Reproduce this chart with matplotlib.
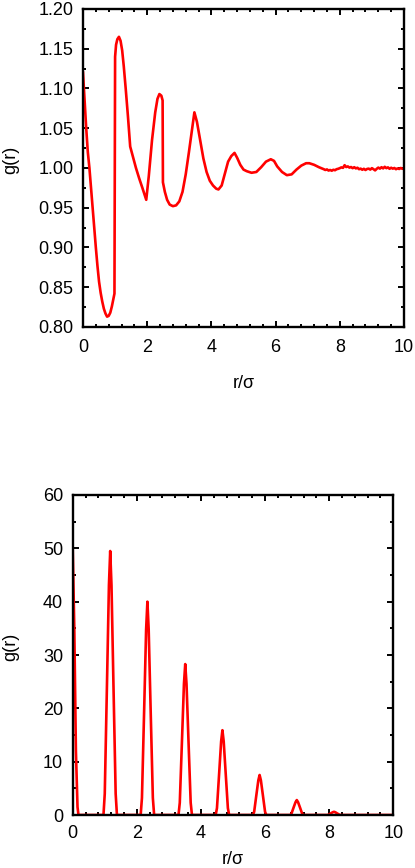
import matplotlib
matplotlib.use("Agg")
import matplotlib.pyplot as plt
from matplotlib.ticker import MultipleLocator, FormatStrFormatter

# ---------------- data: top panel ----------------
r_top = [0.00, 0.05, 0.10, 0.15, 0.20, 0.25, 0.30, 0.35, 0.40, 0.45,
         0.50, 0.55, 0.60, 0.65, 0.70, 0.75, 0.80, 0.85, 0.90, 0.95,
         0.98, 1.00, 1.03, 1.07, 1.12, 1.17, 1.22, 1.27, 1.33, 1.40,
         1.47, 1.55, 1.65, 1.75, 1.85, 1.97, 2.05, 2.15, 2.25, 2.32,
         2.38, 2.44, 2.48, 2.49, 2.55, 2.62, 2.70, 2.80, 2.90, 3.00,
         3.10, 3.20, 3.30, 3.40, 3.47, 3.55, 3.65, 3.75, 3.85, 3.95,
         4.05, 4.15, 4.22, 4.32, 4.42, 4.52, 4.62, 4.72, 4.80, 4.90,
         5.00, 5.10, 5.25, 5.40, 5.55, 5.70, 5.85, 5.95, 6.05, 6.20,
         6.35, 6.50, 6.65, 6.80, 6.95, 7.05, 7.20, 7.35,
         7.50, 7.55, 7.60, 7.65, 7.70, 7.75, 7.80, 7.85, 7.90, 7.95,
         8.00, 8.05, 8.10, 8.15, 8.20, 8.25, 8.30, 8.35, 8.40, 8.45,
         8.50, 8.55, 8.60, 8.65, 8.70, 8.75, 8.80, 8.85, 8.90, 8.95,
         9.00, 9.05, 9.10, 9.15, 9.20, 9.25, 9.30, 9.35, 9.40, 9.45,
         9.50, 9.55, 9.60, 9.65, 9.70, 9.75, 9.80, 9.85, 9.90, 9.95,
         10.00]
g_top = [1.120, 1.085, 1.050, 1.020, 1.000, 0.975, 0.950, 0.925, 0.900, 0.877,
         0.857, 0.843, 0.832, 0.823, 0.817, 0.813, 0.814, 0.818, 0.826, 0.836,
         0.842, 1.140, 1.155, 1.162, 1.165, 1.160, 1.148, 1.128, 1.100, 1.065,
         1.027, 1.015, 1.000, 0.987, 0.975, 0.960, 0.990, 1.035, 1.070, 1.087,
         1.093, 1.091, 1.085, 0.982, 0.970, 0.960, 0.954, 0.952, 0.953, 0.958,
         0.970, 0.992, 1.020, 1.050, 1.070, 1.058, 1.035, 1.012, 0.995, 0.984,
         0.978, 0.974, 0.973, 0.978, 0.993, 1.008, 1.015, 1.019, 1.013, 1.004,
         0.998, 0.996, 0.994, 0.995, 1.001, 1.008, 1.011, 1.009, 1.002, 0.995,
         0.991, 0.992, 0.998, 1.003, 1.006, 1.006, 1.004, 1.001,
         0.9985, 0.9975, 0.9982, 0.9968, 0.9975, 0.9966, 0.9978, 0.9972, 0.9985, 0.9990,
         0.9998, 1.0008, 1.0002, 1.0035, 1.0012, 1.0020, 1.0005, 1.0012, 0.9998, 1.0010,
         0.9995, 1.0003, 0.9985, 0.9992, 0.9978, 0.9990, 0.9975, 0.9988, 0.9992, 0.9980,
         0.9998, 0.9985, 0.9970, 0.9990, 1.0005, 0.9992, 1.0010, 0.9995, 1.0015, 0.9998,
         1.0008, 0.9990, 1.0003, 0.9992, 1.0000, 0.9985, 0.9995, 0.9988, 1.0000, 0.9990,
         0.9995]

# ---------------- data: bottom panel ----------------
r_bot = [0.00, 0.05, 0.10, 0.15, 0.18,
         0.96, 1.00, 1.07, 1.13, 1.17, 1.21, 1.27, 1.34, 1.38,
         2.12, 2.16, 2.23, 2.29, 2.33, 2.37, 2.43, 2.50, 2.54,
         3.30, 3.34, 3.41, 3.47, 3.51, 3.55, 3.61, 3.68, 3.72,
         4.46, 4.50, 4.57, 4.63, 4.67, 4.71, 4.77, 4.84, 4.88,
         5.62, 5.66, 5.73, 5.79, 5.83, 5.87, 5.93, 6.00, 6.04,
         6.78, 6.82, 6.89, 6.95, 6.99, 7.03, 7.09, 7.16, 7.20,
         7.94, 7.98, 8.05, 8.11, 8.15, 8.19, 8.25, 8.32, 8.36,
         10.00]
g_bot = [50.0, 35.0, 12.0, 1.5, 0.0,
         0.0, 4.0, 24.8, 43.1, 49.5, 43.1, 24.8, 4.0, 0.0,
         0.0, 3.2, 20.0, 34.8, 40.0, 34.8, 20.0, 3.2, 0.0,
         0.0, 2.3, 14.2, 24.6, 28.3, 24.6, 14.2, 2.3, 0.0,
         0.0, 1.3, 8.0, 13.8, 15.9, 13.8, 8.0, 1.3, 0.0,
         0.0, 0.6, 3.8, 6.5, 7.5, 6.5, 3.8, 0.6, 0.0,
         0.0, 0.2, 1.4, 2.4, 2.8, 2.4, 1.4, 0.2, 0.0,
         0.0, 0.05, 0.3, 0.52, 0.6, 0.52, 0.3, 0.05, 0.0,
         0.0]

x_ticks = [0, 2, 4, 6, 8, 10]
top_yticks = [0.80, 0.85, 0.90, 0.95, 1.00, 1.05, 1.10, 1.15, 1.20]
bot_yticks = [0, 10, 20, 30, 40, 50, 60]
x_label = "r/σ"
y_label = "g(r)"

plt.rcParams['font.family'] = ['Liberation Sans', 'DejaVu Sans']
FS = 13.0

fig = plt.figure(figsize=(4.15, 8.68), dpi=100)
W, H = 415.0, 868.0

def make_axes(left, right, top, bottom):
    return fig.add_axes([left / W, 1 - bottom / H, (right - left) / W, (bottom - top) / H])

ax1 = make_axes(83.0, 404.0, 9.0, 327.0)
ax2 = make_axes(72.7, 393.3, 495.0, 815.0)

ax1.plot(r_top, g_top, color='red', lw=1.9, zorder=2)
ax2.plot(r_bot, g_bot, color='red', lw=1.9, zorder=2, clip_on=True)

for ax in (ax1, ax2):
    ax.set_xlim(0, 10)
    ax.set_xticks(x_ticks)
    ax.xaxis.set_minor_locator(MultipleLocator(0.4))
    for s in ax.spines.values():
        s.set_linewidth(1.7)
        s.set_zorder(3)
    ax.tick_params(which='both', direction='in', top=True, right=True,
                   labelsize=FS, width=1.4, color='black')
    ax.tick_params(which='major', length=4.5)
    ax.tick_params(which='minor', length=2.2)

ax1.set_ylim(0.80, 1.20)
ax1.set_yticks(top_yticks)
ax1.yaxis.set_major_formatter(FormatStrFormatter('%.2f'))
ax1.yaxis.set_minor_locator(MultipleLocator(0.025))
ax1.tick_params(axis='x', which='major', pad=9.0)
ax1.tick_params(axis='y', which='major', pad=7.0)

ax2.set_ylim(0, 60)
ax2.set_yticks(bot_yticks)
ax2.yaxis.set_minor_locator(MultipleLocator(5))
ax2.tick_params(axis='x', which='major', pad=7.5)
ax2.tick_params(axis='y', which='major', pad=7.0)

# axis labels
ax1.set_xlabel(x_label, fontsize=FS)
ax1.xaxis.label.set_va('center')
ax1.xaxis.set_label_coords(0.5, (327 - 383) / 318.0)
ax1.set_ylabel(y_label, fontsize=FS)
ax1.yaxis.label.set_va('center')
ax1.yaxis.set_label_coords((11 - 83) / 321.0, (327 - 160) / 318.0)

ax2.set_xlabel(x_label, fontsize=FS)
ax2.xaxis.label.set_va('center')
ax2.xaxis.set_label_coords(0.5, (815 - 860) / 320.0)
ax2.set_ylabel(y_label, fontsize=FS)
ax2.yaxis.label.set_va('center')
ax2.yaxis.set_label_coords((11 - 72.7) / 320.6, (815 - 647) / 320.0)

fig.savefig("out.png", dpi=100)
